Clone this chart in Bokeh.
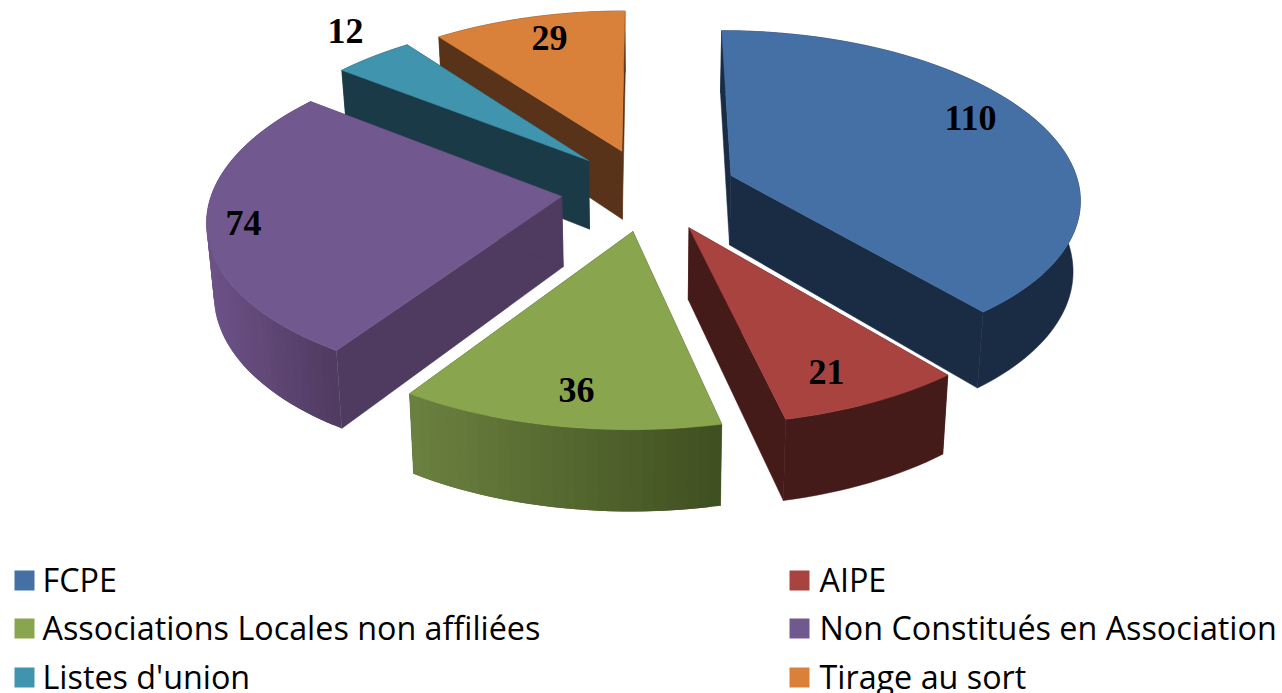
import numpy as np
from bokeh.plotting import figure
from bokeh.models import Range1d
from bokeh.core.properties import value
from bokeh.embed import file_html
from bokeh.resources import INLINE

categories = ["FCPE", "AIPE", "Associations Locales non affiliées",
              "Non Constitués en Association", "Listes d'union", "Tirage au sort"]
values = [110, 21, 36, 74, 12, 29]

top_colors = ["#4570a6", "#a84340", "#89a54e", "#71588f", "#4094ae", "#d9803b"]
edge_colors = ["#1a2c44", "#451b19", "#3f4f20", "#4f3a60", "#1b3a47", "#58331a"]
arc_left = ["#1a2c44", "#451b19", "#6b813f", "#6d5288", "#1b3a47", "#58331a"]
arc_right = ["#1a2c44", "#451b19", "#3f4f20", "#4f3a60", "#1b3a47", "#58331a"]

# camera model of the tilted pie (screen pixels)
CX, Y0, VY, D = 648.5, 189.0, -1236.0, 3020.0
R, EXPLODE, H, SHRINK, XPOW = 349.0, 88.0, 70.0, 0.983, 1.1
DRAW_ORDER = [5, 4, 0, 3, 1, 2]
LABEL_POS = [(970, 117), (826, 371), (576, 389), (243, 222), (345, 30), (549, 37)]
LEG_ROWS = [(580, 0), (580, 1), (628, 2), (628, 3), (677, 4), (677, 5)]
LEG_X = [(24, 42), (799, 819)]
LEG_BASE = -2


def project(X, Y):
    s = 1.0 / (1.0 + np.asarray(Y, float) / D)
    return CX + np.asarray(X, float) * s ** XPOW, VY + (Y0 - VY) * s, s


def bottom(x, y, s):
    return CX + (x - CX) * SHRINK, y + H * s


def mix(a, b, t):
    ca = [int(a[i:i + 2], 16) for i in (1, 3, 5)]
    cb = [int(b[i:i + 2], 16) for i in (1, 3, 5)]
    return "#%02x%02x%02x" % tuple(int(round(u + (v - u) * t)) for u, v in zip(ca, cb))


p = figure(width=1282, height=693, output_backend="svg", toolbar_location=None,
           x_range=Range1d(0, 1282), y_range=Range1d(693, 0), min_border=0,
           outline_line_color=None)
p.axis.visible = False
p.grid.visible = False

total = float(sum(values))
fracs = np.cumsum([0.0] + values) / total * 2 * np.pi

for i in DRAW_ORDER:
    a0, a1 = fracs[i], fracs[i + 1]
    mid = (a0 + a1) / 2
    ox, oy = EXPLODE * np.sin(mid), EXPLODE * np.cos(mid)
    th = np.linspace(a0, a1, max(8, int(np.degrees(a1 - a0) / 1.5)))
    ax, ay, as_ = project(ox + R * np.sin(th), oy + R * np.cos(th))
    cx, cy, cs = project(ox, oy)
    bax, bay = bottom(ax, ay, as_)
    bcx, bcy = bottom(cx, cy, cs)
    ec = edge_colors[i]
    # radial walls
    for k in (0, -1):
        p.patch([cx, ax[k], bax[k], bcx], [cy, ay[k], bay[k], bcy],
                fill_color=ec, line_color=ec, line_width=0.5)
    # outer wall, shaded left to right
    xmin, xmax = ax.min(), ax.max()
    if arc_left[i] == arc_right[i]:
        p.patch(np.r_[ax, bax[::-1]], np.r_[ay, bay[::-1]], fill_color=arc_left[i],
                line_color=arc_left[i], line_width=0.5)
    else:
        for k in range(len(th) - 1):
            t = (0.5 * (ax[k] + ax[k + 1]) - xmin) / max(xmax - xmin, 1)
            col = mix(arc_left[i], arc_right[i], t)
            j = min(k + 2, len(th) - 1)
            p.patch([ax[k], ax[j], bax[j], bax[k]], [ay[k], ay[j], bay[j], bay[k]],
                    fill_color=col, line_color=None)
    # top face
    p.patch(np.r_[cx, ax], np.r_[cy, ay], fill_color=top_colors[i],
            line_color=top_colors[i], line_width=0.5)

p.text([q[0] for q in LABEL_POS], [q[1] for q in LABEL_POS],
       text=[str(v) for v in values], text_font=value("Liberation Serif"),
       text_font_style="bold", text_font_size="36px", text_color="#000000",
       text_align="center", text_baseline="middle")

for (y, i) in LEG_ROWS:
    sx, tx = LEG_X[i % 2]
    p.rect([sx], [y], width=20, height=20, fill_color=top_colors[i],
           line_color=None)
    p.text([tx], [y + LEG_BASE], text=[categories[i]], text_font=value("Open Sans"),
           text_font_size="32.3px", text_color="#000000", text_align="left",
           text_baseline="middle")

open("out.html", "w").write(file_html(p, INLINE))
